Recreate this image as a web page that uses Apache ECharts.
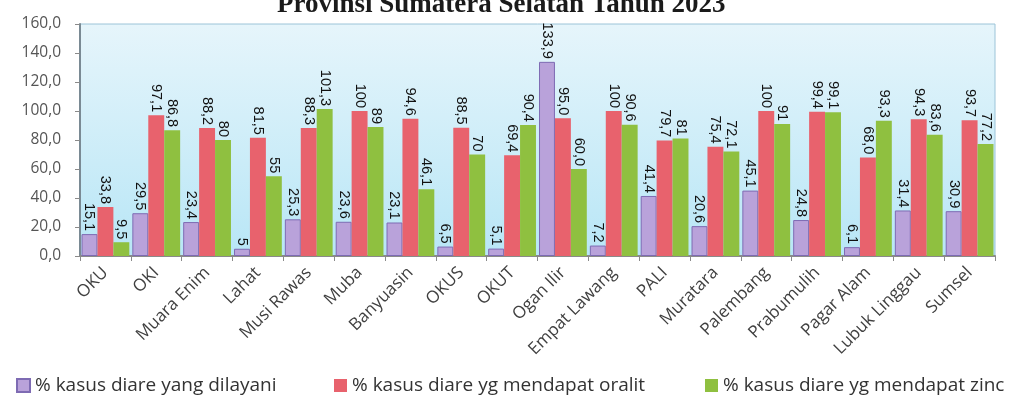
<!DOCTYPE html>
<html>
<head>
<meta charset="utf-8">
<script src="https://cdn.jsdelivr.net/npm/echarts@6/dist/echarts.min.js"></script>
<style>
  html, body { margin: 0; padding: 0; background: #ffffff; }
  #chart { width: 1014px; height: 402px; }
</style>
</head>
<body>
<div id="chart"></div>
<script>
// Kabupaten/kota di Provinsi Sumatera Selatan
const categories = ['OKU', 'OKI', 'Muara Enim', 'Lahat', 'Musi Rawas', 'Muba', 'Banyuasin', 'OKUS', 'OKUT',
  'Ogan Ilir', 'Empat Lawang', 'PALI', 'Muratara', 'Palembang', 'Prabumulih', 'Pagar Alam', 'Lubuk Linggau', 'Sumsel'];

// Persentase, ditulis sebagai teks agar angka desimal ikut tampil pada label
const dilayani = ['15.1', '29.5', '23.4', '5', '25.3', '23.6', '23.1', '6.5', '5.1',
  '133.9', '7.2', '41.4', '20.6', '45.1', '24.8', '6.1', '31.4', '30.9'];
const oralit = ['33.8', '97.1', '88.2', '81.5', '88.3', '100', '94.6', '88.5', '69.4',
  '95.0', '100', '79.7', '75.4', '100', '99.4', '68.0', '94.3', '93.7'];
const zinc = ['9.5', '86.8', '80', '55', '101.3', '89', '46.1', '70', '90.4',
  '60.0', '90.6', '81', '72.1', '91', '99.1', '93.3', '83.6', '77.2'];

const seriesNames = ['% kasus diare yang dilayani', '% kasus diare yg mendapat oralit', '% kasus diare yg mendapat zinc'];
const yTicks = { min: 0, max: 160, interval: 20 };

const chart = echarts.init(document.getElementById('chart'));

function makeSeries(name, raw, color, border) {
  return {
    name: name,
    type: 'bar',
    barGap: '0%',
    barCategoryGap: '6%',
    data: raw.map(Number),
    itemStyle: { color: color, borderColor: border, borderWidth: border ? 1 : 0 },
    label: {
      show: true,
      position: 'top',
      rotate: -90,
      align: 'right',
      verticalAlign: 'middle',
      distance: 3,
      color: '#111111',
      fontFamily: 'Liberation Sans, Arial',
      fontSize: 14.5,
      formatter: p => raw[p.dataIndex].replace('.', ',')
    }
  };
}

const legendBase = {
  bottom: 2,
  icon: 'rect',
  itemWidth: 13,
  itemHeight: 13,
  itemGap: 6,
  textStyle: { fontFamily: 'Open Sans, Liberation Sans, Arial', fontSize: 19, color: '#333333' }
};

chart.setOption({
  animation: false,
  backgroundColor: '#ffffff',
  title: {
    text: 'Provinsi Sumatera Selatan Tahun 2023',
    left: 272,
    top: -13,
    textStyle: { fontFamily: 'Liberation Serif, Times New Roman, serif', fontWeight: 'bold', fontSize: 27, color: '#1a1a1a' }
  },
  legend: [
    Object.assign({}, legendBase, { left: 11, data: [seriesNames[0]] }),
    Object.assign({}, legendBase, { left: 329, data: [seriesNames[1]] }),
    Object.assign({}, legendBase, { left: 700, data: [seriesNames[2]] })
  ],
  grid: {
    left: 80, right: 19, top: 24, bottom: 146,
    show: true,
    borderColor: '#9cc4d8',
    borderWidth: 1,
    backgroundColor: new echarts.graphic.LinearGradient(0, 0, 0, 1, [
      { offset: 0, color: '#e6f5fb' },
      { offset: 1, color: '#b8e6f6' }
    ])
  },
  xAxis: {
    type: 'category',
    data: categories,
    axisLine: { lineStyle: { color: '#8a8a8a', width: 2 } },
    axisTick: { show: true, alignWithLabel: false, lineStyle: { color: '#8a8a8a' } },
    axisLabel: {
      rotate: 45,
      interval: 0,
      margin: 14,
      color: '#404040',
      fontFamily: 'Open Sans, Liberation Sans, Arial',
      fontSize: 17
    }
  },
  yAxis: {
    type: 'value',
    min: yTicks.min,
    max: yTicks.max,
    interval: yTicks.interval,
    splitLine: { show: false },
    axisLine: { show: true, lineStyle: { color: '#7a8a94', width: 2 } },
    axisTick: { show: true, length: 5, lineStyle: { color: '#8a8a8a' } },
    axisLabel: {
      color: '#555555',
      fontFamily: 'Open Sans, Liberation Sans, Arial',
      fontSize: 15.5,
      margin: 19,
      formatter: v => v.toFixed(1).replace('.', ',')
    }
  },
  series: [
    makeSeries(seriesNames[0], dilayani, '#b9a2da', '#7e6bb3'),
    makeSeries(seriesNames[1], oralit, '#e8626d', null),
    makeSeries(seriesNames[2], zinc, '#8fc040', null)
  ]
});
</script>
</body>
</html>
